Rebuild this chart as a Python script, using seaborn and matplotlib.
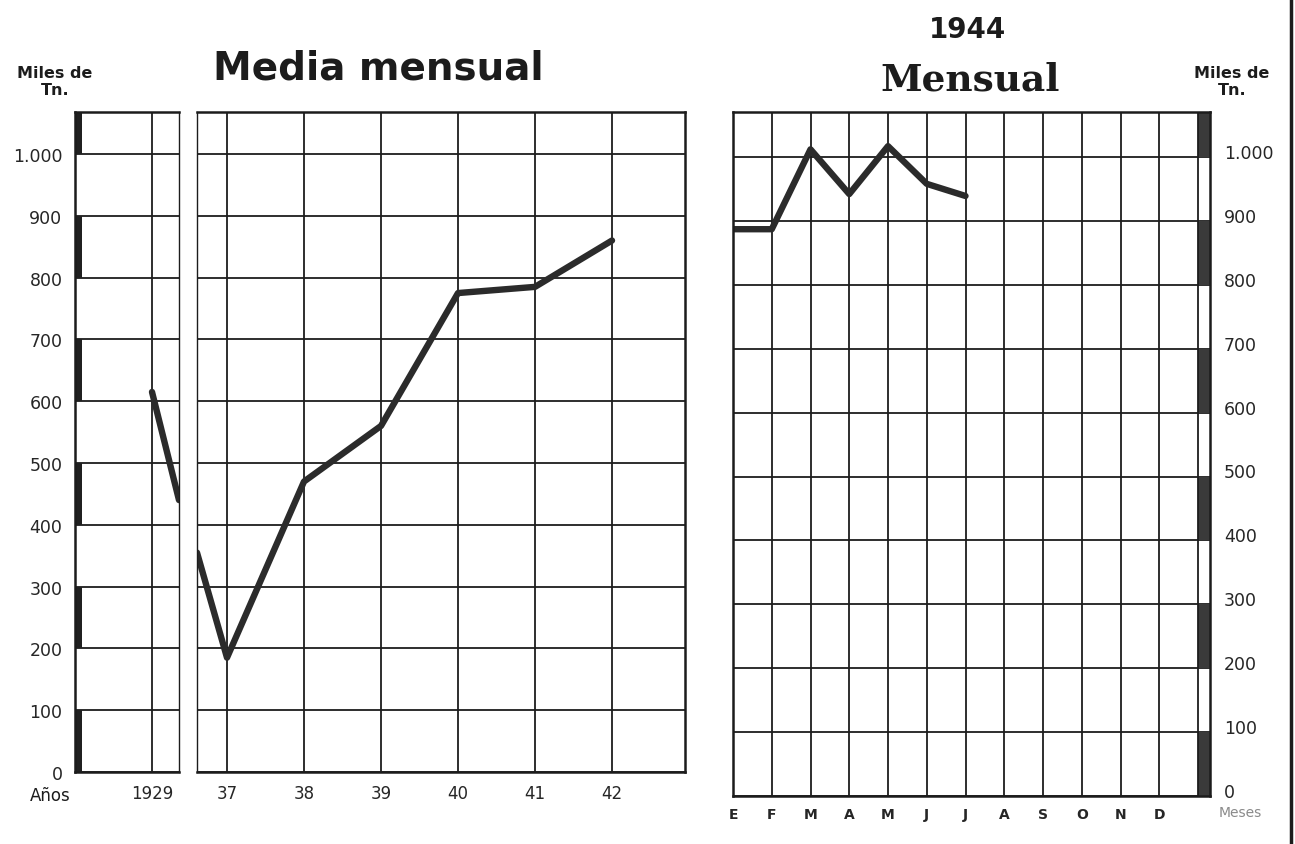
import matplotlib
matplotlib.use("Agg")
import matplotlib.pyplot as plt
import matplotlib.transforms as mtransforms
import numpy as np
import pandas as pd
import seaborn as sns

# --- datos (miles de Tn.) ---
anios = ["1929", "37", "38", "39", "40", "41", "42"]
media_anual = [615, 185, 470, 560, 775, 785, 860]
# valores de la linea justo en los bordes del corte del eje
corte_izq = 440
corte_der = 355

meses = ["E", "F", "M", "A", "M", "J", "J", "A", "S", "O", "N", "D"]
mensual_1944 = [887, 887, 1012, 942, 1017, 958, 939]

y_ticks = [0, 100, 200, 300, 400, 500, 600, 700, 800, 900, 1000]
y_labels = ["0", "100", "200", "300", "400", "500", "600", "700", "800", "900", "1.000"]

sns.set_style("white")
plt.rcParams["font.family"] = ["DejaVu Sans"]

W, H = 1295, 845
fig = plt.figure(figsize=(W / 100, H / 100), dpi=100)

def px_axes(x0, x1, ybot, ytop):
    return fig.add_axes([x0 / W, (H - ybot) / H, (x1 - x0) / W, (ybot - ytop) / H])

ink = "#1c1c1c"
line_col = "#2b2b2b"
unit = 77.0  # px per year column

# left chart, split in two by the break
ax1 = px_axes(75, 179, 773, 113)
ax2 = px_axes(197, 685, 773, 113)
ax3 = px_axes(733, 1210, 797, 113)

ytop_l = 660 / 0.618
ytop_r = 684 / 0.639
x1_max = (179 - 75) / unit
x2_min = 2 - (227 - 197) / unit
x2_max = x2_min + (685 - 197) / unit
x3_max = (1210 - 733) / 38.75

for ax in (ax1, ax2, ax3):
    ax.set_facecolor("white")
    ax.grid(True, color=ink, linewidth=1.3)
    ax.set_axisbelow(True)
    ax.tick_params(length=0)
    for s in ax.spines.values():
        s.set_color(ink)
        s.set_linewidth(1.8)

ax1.set_xlim(0, x1_max)
ax2.set_xlim(x2_min, x2_max)
ax1.set_ylim(0, ytop_l)
ax2.set_ylim(0, ytop_l)
ax3.set_xlim(0, x3_max)
ax3.set_ylim(0, ytop_r)

# break edges thinner
ax1.spines["right"].set_linewidth(1.0)
ax2.spines["left"].set_linewidth(1.0)

ax1.set_yticks(y_ticks)
ax1.set_yticklabels(y_labels, fontsize=12.5)
ax1.tick_params(axis="y", pad=9)
ax2.set_yticks(y_ticks)
ax2.set_yticklabels([])

ax1.set_xticks([1])
ax1.set_xticklabels(anios[:1], fontsize=12)
ax2.set_xticks(range(2, 8))
ax2.set_xticklabels(anios[1:], fontsize=12)
for ax in (ax1, ax2):
    ax.tick_params(axis="x", pad=9)

ax3.yaxis.tick_right()
ax3.set_yticks(y_ticks)
ax3.set_yticklabels(y_labels, fontsize=12.5)
ax3.tick_params(axis="y", pad=10)
# right scale sits a little above its grid lines in the original
shift = mtransforms.ScaledTranslation(0, 6 / 100, fig.dpi_scale_trans)
for lab in ax3.get_yticklabels():
    lab.set_transform(lab.get_transform() + shift)
ax3.set_xticks(range(len(meses)))
ax3.set_xticklabels(meses, fontsize=10, fontweight="bold")
ax3.tick_params(axis="x", pad=8)
ax3.axvline(12, color=ink, linewidth=1.3)

# alternating dark bands on the scale edges
def bandas(ax, x0, x1, top, color):
    edges = y_ticks + [top]
    for i in range(0, len(edges) - 1, 2):
        ax.fill_between([x0, x1], edges[i], edges[i + 1], color=color, linewidth=0, zorder=1)

bandas(ax1, 0, 0.09, ytop_l, "#202020")
bandas(ax3, 12, x3_max, ytop_r, "#3a3a3a")

# data lines
lw = 4.6
df_a = pd.DataFrame({"x": [1, x1_max], "v": [media_anual[0], corte_izq]})
sns.lineplot(data=df_a, x="x", y="v", ax=ax1, color=line_col, linewidth=lw,
             solid_capstyle="round", legend=False)
df_b = pd.DataFrame({"x": [x2_min] + list(range(2, 8)), "v": [corte_der] + media_anual[1:]})
sns.lineplot(data=df_b, x="x", y="v", ax=ax2, color=line_col, linewidth=lw,
             solid_capstyle="round", solid_joinstyle="round", legend=False, sort=False)
df_m = pd.DataFrame({"x": range(len(mensual_1944)), "v": mensual_1944})
sns.lineplot(data=df_m, x="x", y="v", ax=ax3, color=line_col, linewidth=lw,
             solid_capstyle="round", solid_joinstyle="round", legend=False)

for ax in (ax1, ax2, ax3):
    ax.set_xlabel("")
    ax.set_ylabel("")

# texts
fig.text(378 / W, 1 - 68 / H, "Media mensual", fontsize=28, fontweight="bold",
         ha="center", va="center", color=ink)
fig.text(968 / W, 1 - 30 / H, "1944", fontsize=20, fontweight="bold",
         ha="center", va="center", color=ink)
fig.text(970 / W, 1 - 80 / H, "Mensual", fontsize=27, fontweight="bold",
         family="DejaVu Serif", ha="center", va="center", color=ink)
fig.text(55 / W, 1 - 82 / H, "Miles de\nTn.", fontsize=11.5, fontweight="bold",
         ha="center", va="center", linespacing=1.15, color=ink)
fig.text(1232 / W, 1 - 82 / H, "Miles de\nTn.", fontsize=11.5, fontweight="bold",
         ha="center", va="center", linespacing=1.15, color=ink)
fig.text(50 / W, 1 - 796 / H, "Años", fontsize=12, ha="center", va="center", color=ink)
fig.text(1240 / W, 1 - 813 / H, "Meses", fontsize=10, ha="center", va="center", color="#8a8a8a")

# page border on the right
fig.add_artist(plt.Line2D([1291 / W, 1291 / W], [0, 1], color=ink, linewidth=2.5))

fig.savefig("out.png", dpi=100, facecolor="white")
